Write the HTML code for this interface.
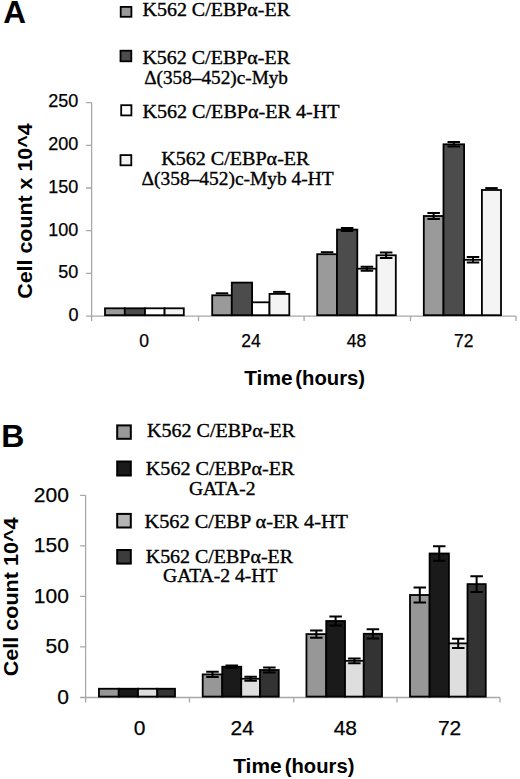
<!DOCTYPE html>
<html><head><meta charset="utf-8"><style>
html,body{margin:0;padding:0;background:#fff;}
svg{display:block;}
</style></head><body>
<svg width="520" height="779" viewBox="0 0 520 779">
<rect width="520" height="779" fill="#fff"/>
<path d="M91.6 102.60000000000002V321.1M86.1 316.1H516M86.1 102.60H91.6M86.1 145.30H91.6M86.1 188.00H91.6M86.1 230.70H91.6M86.1 273.40H91.6M86.1 316.10H91.6M91.6 316.1V321.1M198.5 316.1V321.1M304.1 316.1V321.1M410.5 316.1V321.1M516 316.1V321.1" stroke="#a8a8a8" stroke-width="1.3" fill="none"/>
<rect x="105.00" y="308.30" width="19.80" height="6.90" fill="#9a9a9a" stroke="#000" stroke-width="1.8"/>
<rect x="124.80" y="308.30" width="20.20" height="6.90" fill="#4c4c4c" stroke="#000" stroke-width="1.8"/>
<rect x="145.00" y="308.30" width="19.60" height="6.90" fill="#fff" stroke="#000" stroke-width="1.8"/>
<rect x="164.60" y="308.30" width="19.20" height="6.90" fill="#f4f4f4" stroke="#000" stroke-width="1.8"/>
<rect x="212.20" y="295.30" width="19.60" height="19.90" fill="#9a9a9a" stroke="#000" stroke-width="1.8"/>
<rect x="231.80" y="282.60" width="20.30" height="32.60" fill="#4c4c4c" stroke="#000" stroke-width="1.8"/>
<rect x="252.10" y="302.30" width="17.40" height="12.90" fill="#fff" stroke="#000" stroke-width="1.8"/>
<rect x="269.50" y="293.90" width="19.80" height="21.30" fill="#f4f4f4" stroke="#000" stroke-width="1.8"/>
<rect x="317.20" y="254.20" width="19.80" height="61.00" fill="#9a9a9a" stroke="#000" stroke-width="1.8"/>
<rect x="337.00" y="229.60" width="20.30" height="85.60" fill="#4c4c4c" stroke="#000" stroke-width="1.8"/>
<rect x="357.30" y="268.70" width="19.20" height="46.50" fill="#fff" stroke="#000" stroke-width="1.8"/>
<rect x="376.50" y="255.30" width="19.30" height="59.90" fill="#f4f4f4" stroke="#000" stroke-width="1.8"/>
<rect x="423.80" y="216.00" width="19.70" height="99.20" fill="#9a9a9a" stroke="#000" stroke-width="1.8"/>
<rect x="443.50" y="144.30" width="20.60" height="170.90" fill="#4c4c4c" stroke="#000" stroke-width="1.8"/>
<rect x="464.10" y="259.80" width="17.80" height="55.40" fill="#fff" stroke="#000" stroke-width="1.8"/>
<rect x="481.90" y="190.00" width="19.10" height="125.20" fill="#f4f4f4" stroke="#000" stroke-width="1.8"/>
<path d="M215.75 293.30H228.25" stroke="#000" stroke-width="2" fill="none"/>
<path d="M273.15 291.90H285.65" stroke="#000" stroke-width="2" fill="none"/>
<path d="M320.85 252.20H333.35" stroke="#000" stroke-width="2" fill="none"/>
<path d="M340.90 228.10H353.40M347.15 228.10V231.10M340.90 231.10H353.40" stroke="#000" stroke-width="2" fill="none"/>
<path d="M360.65 266.70H373.15M366.90 266.70V270.70M360.65 270.70H373.15" stroke="#000" stroke-width="2" fill="none"/>
<path d="M379.90 252.50H392.40M386.15 252.50V258.10M379.90 258.10H392.40" stroke="#000" stroke-width="2" fill="none"/>
<path d="M427.40 212.90H439.90M433.65 212.90V219.10M427.40 219.10H439.90" stroke="#000" stroke-width="2" fill="none"/>
<path d="M447.55 142.00H460.05M453.80 142.00V146.60M447.55 146.60H460.05" stroke="#000" stroke-width="2" fill="none"/>
<path d="M466.75 257.05H479.25M473.00 257.05V262.55M466.75 262.55H479.25" stroke="#000" stroke-width="2" fill="none"/>
<path d="M485.20 188.10H497.70" stroke="#000" stroke-width="2" fill="none"/>
<path d="M85.6 495.3V702.5M80.1 697.5H500M80.1 495.30H85.6M80.1 545.85H85.6M80.1 596.40H85.6M80.1 646.95H85.6M80.1 697.50H85.6M85.6 697.5V702.5M189.5 697.5V702.5M293.75 697.5V702.5M397 697.5V702.5M500 697.5V702.5" stroke="#a8a8a8" stroke-width="1.3" fill="none"/>
<rect x="98.95" y="688.75" width="19.80" height="7.85" fill="#979797" stroke="#000" stroke-width="1.8"/>
<rect x="118.75" y="688.75" width="19.25" height="7.85" fill="#1a1a1a" stroke="#000" stroke-width="1.8"/>
<rect x="138.00" y="688.75" width="19.25" height="7.85" fill="#dedede" stroke="#000" stroke-width="1.8"/>
<rect x="157.25" y="688.75" width="17.75" height="7.85" fill="#333" stroke="#000" stroke-width="1.8"/>
<rect x="202.70" y="674.40" width="19.55" height="22.20" fill="#979797" stroke="#000" stroke-width="1.8"/>
<rect x="222.25" y="666.75" width="19.00" height="29.85" fill="#1a1a1a" stroke="#000" stroke-width="1.8"/>
<rect x="241.25" y="678.75" width="18.75" height="17.85" fill="#dedede" stroke="#000" stroke-width="1.8"/>
<rect x="260.00" y="670.00" width="18.75" height="26.60" fill="#333" stroke="#000" stroke-width="1.8"/>
<rect x="306.45" y="634.10" width="19.80" height="62.50" fill="#979797" stroke="#000" stroke-width="1.8"/>
<rect x="326.25" y="621.00" width="18.75" height="75.60" fill="#1a1a1a" stroke="#000" stroke-width="1.8"/>
<rect x="345.00" y="660.80" width="18.75" height="35.80" fill="#dedede" stroke="#000" stroke-width="1.8"/>
<rect x="363.75" y="633.80" width="18.25" height="62.80" fill="#333" stroke="#000" stroke-width="1.8"/>
<rect x="410.00" y="595.00" width="19.60" height="101.60" fill="#979797" stroke="#000" stroke-width="1.8"/>
<rect x="429.60" y="553.50" width="19.30" height="143.10" fill="#1a1a1a" stroke="#000" stroke-width="1.8"/>
<rect x="448.90" y="643.40" width="18.60" height="53.20" fill="#dedede" stroke="#000" stroke-width="1.8"/>
<rect x="467.50" y="584.10" width="18.25" height="112.50" fill="#333" stroke="#000" stroke-width="1.8"/>
<path d="M206.22 671.80H218.72M212.47 671.80V677.00M206.22 677.00H218.72" stroke="#000" stroke-width="2" fill="none"/>
<path d="M225.50 665.55H238.00M231.75 665.55V667.95M225.50 667.95H238.00" stroke="#000" stroke-width="2" fill="none"/>
<path d="M244.38 676.75H256.88M250.62 676.75V680.75M244.38 680.75H256.88" stroke="#000" stroke-width="2" fill="none"/>
<path d="M263.12 667.50H275.62M269.38 667.50V672.50M263.12 672.50H275.62" stroke="#000" stroke-width="2" fill="none"/>
<path d="M310.10 630.50H322.60M316.35 630.50V637.70M310.10 637.70H322.60" stroke="#000" stroke-width="2" fill="none"/>
<path d="M329.38 616.60H341.88M335.62 616.60V625.40M329.38 625.40H341.88" stroke="#000" stroke-width="2" fill="none"/>
<path d="M348.12 658.40H360.62M354.38 658.40V663.20M348.12 663.20H360.62" stroke="#000" stroke-width="2" fill="none"/>
<path d="M366.62 629.20H379.12M372.88 629.20V638.40M366.62 638.40H379.12" stroke="#000" stroke-width="2" fill="none"/>
<path d="M413.55 587.60H426.05M419.80 587.60V602.40M413.55 602.40H426.05" stroke="#000" stroke-width="2" fill="none"/>
<path d="M433.00 546.30H445.50M439.25 546.30V560.70M433.00 560.70H445.50" stroke="#000" stroke-width="2" fill="none"/>
<path d="M451.95 638.80H464.45M458.20 638.80V648.00M451.95 648.00H464.45" stroke="#000" stroke-width="2" fill="none"/>
<path d="M470.38 576.20H482.88M476.62 576.20V592.00M470.38 592.00H482.88" stroke="#000" stroke-width="2" fill="none"/>
<text x="3.3" y="23.4" font-size="31.5" text-anchor="start" font-weight="bold" style="font-family:'Liberation Sans',sans-serif">A</text>
<text x="1.3" y="447.0" font-size="32" text-anchor="start" font-weight="bold" style="font-family:'Liberation Sans',sans-serif">B</text>
<text x="78.4" y="107.40000000000002" font-size="18" text-anchor="end" font-weight="normal" style="font-family:'Liberation Sans',sans-serif" stroke="#000" stroke-width="0.25">250</text>
<text x="78.4" y="150.10000000000002" font-size="18" text-anchor="end" font-weight="normal" style="font-family:'Liberation Sans',sans-serif" stroke="#000" stroke-width="0.25">200</text>
<text x="78.4" y="192.8" font-size="18" text-anchor="end" font-weight="normal" style="font-family:'Liberation Sans',sans-serif" stroke="#000" stroke-width="0.25">150</text>
<text x="78.4" y="235.50000000000003" font-size="18" text-anchor="end" font-weight="normal" style="font-family:'Liberation Sans',sans-serif" stroke="#000" stroke-width="0.25">100</text>
<text x="78.4" y="278.20000000000005" font-size="18" text-anchor="end" font-weight="normal" style="font-family:'Liberation Sans',sans-serif" stroke="#000" stroke-width="0.25">50</text>
<text x="78.4" y="320.90000000000003" font-size="18" text-anchor="end" font-weight="normal" style="font-family:'Liberation Sans',sans-serif" stroke="#000" stroke-width="0.25">0</text>
<text x="144.1" y="347" font-size="17.5" text-anchor="middle" font-weight="normal" style="font-family:'Liberation Sans',sans-serif" stroke="#000" stroke-width="0.25">0</text>
<text x="250.9" y="347" font-size="17.5" text-anchor="middle" font-weight="normal" style="font-family:'Liberation Sans',sans-serif" stroke="#000" stroke-width="0.25">24</text>
<text x="356.5" y="347" font-size="17.5" text-anchor="middle" font-weight="normal" style="font-family:'Liberation Sans',sans-serif" stroke="#000" stroke-width="0.25">48</text>
<text x="463.7" y="347" font-size="17.5" text-anchor="middle" font-weight="normal" style="font-family:'Liberation Sans',sans-serif" stroke="#000" stroke-width="0.25">72</text>
<text x="244.2" y="384.5" font-size="21" text-anchor="start" font-weight="bold" style="font-family:'Liberation Sans',sans-serif" textLength="48.4" lengthAdjust="spacingAndGlyphs">Time</text>
<text x="295.3" y="384.5" font-size="21" text-anchor="start" font-weight="bold" style="font-family:'Liberation Sans',sans-serif" textLength="69.8" lengthAdjust="spacingAndGlyphs">(hours)</text>
<text transform="translate(32.2 211.05) rotate(-90)" font-size="21" text-anchor="middle" font-weight="bold" style="font-family:'Liberation Sans',sans-serif" textLength="175.4" lengthAdjust="spacingAndGlyphs">Cell count x 10^4</text>
<text x="68.9" y="501.7" font-size="21" text-anchor="end" font-weight="normal" style="font-family:'Liberation Sans',sans-serif" stroke="#000" stroke-width="0.25">200</text>
<text x="68.9" y="552.25" font-size="21" text-anchor="end" font-weight="normal" style="font-family:'Liberation Sans',sans-serif" stroke="#000" stroke-width="0.25">150</text>
<text x="68.9" y="602.8" font-size="21" text-anchor="end" font-weight="normal" style="font-family:'Liberation Sans',sans-serif" stroke="#000" stroke-width="0.25">100</text>
<text x="68.9" y="653.35" font-size="21" text-anchor="end" font-weight="normal" style="font-family:'Liberation Sans',sans-serif" stroke="#000" stroke-width="0.25">50</text>
<text x="68.9" y="703.9" font-size="21" text-anchor="end" font-weight="normal" style="font-family:'Liberation Sans',sans-serif" stroke="#000" stroke-width="0.25">0</text>
<text x="139.5" y="734.8" font-size="21" text-anchor="middle" font-weight="normal" style="font-family:'Liberation Sans',sans-serif" stroke="#000" stroke-width="0.25">0</text>
<text x="242.25" y="734.8" font-size="21" text-anchor="middle" font-weight="normal" style="font-family:'Liberation Sans',sans-serif" stroke="#000" stroke-width="0.25">24</text>
<text x="345.35" y="734.8" font-size="21" text-anchor="middle" font-weight="normal" style="font-family:'Liberation Sans',sans-serif" stroke="#000" stroke-width="0.25">48</text>
<text x="449.6" y="734.8" font-size="21" text-anchor="middle" font-weight="normal" style="font-family:'Liberation Sans',sans-serif" stroke="#000" stroke-width="0.25">72</text>
<text x="233.2" y="772.7" font-size="21" text-anchor="start" font-weight="bold" style="font-family:'Liberation Sans',sans-serif" textLength="48.4" lengthAdjust="spacingAndGlyphs">Time</text>
<text x="284.8" y="772.7" font-size="21" text-anchor="start" font-weight="bold" style="font-family:'Liberation Sans',sans-serif" textLength="69.6" lengthAdjust="spacingAndGlyphs">(hours)</text>
<text transform="translate(18.4 596.9) rotate(-90)" font-size="21" text-anchor="middle" font-weight="bold" style="font-family:'Liberation Sans',sans-serif" textLength="158.8" lengthAdjust="spacingAndGlyphs">Cell count 10^4</text>
<rect x="120.70" y="6.90" width="10.70" height="9.90" fill="#999" stroke="#000" stroke-width="1.8"/>
<text x="142.5" y="15.8" font-size="18.5" text-anchor="start" font-weight="normal" style="font-family:'Liberation Serif',serif" textLength="147.5" lengthAdjust="spacingAndGlyphs" stroke="#000" stroke-width="0.35">K562 C/EBPα-ER</text>
<rect x="120.50" y="50.70" width="10.80" height="10.60" fill="#4c4c4c" stroke="#000" stroke-width="1.8"/>
<text x="142.4" y="63.8" font-size="18.5" text-anchor="start" font-weight="normal" style="font-family:'Liberation Serif',serif" textLength="147.6" lengthAdjust="spacingAndGlyphs" stroke="#000" stroke-width="0.35">K562 C/EBPα-ER</text>
<text x="144.2" y="83.5" font-size="18.5" text-anchor="start" font-weight="normal" style="font-family:'Liberation Serif',serif" textLength="143.8" lengthAdjust="spacingAndGlyphs" stroke="#000" stroke-width="0.35">Δ(358–452)c-Myb</text>
<rect x="121.20" y="105.20" width="10.20" height="10.20" fill="#fff" stroke="#000" stroke-width="1.8"/>
<text x="142.4" y="118" font-size="18.5" text-anchor="start" font-weight="normal" style="font-family:'Liberation Serif',serif" textLength="197.1" lengthAdjust="spacingAndGlyphs" stroke="#000" stroke-width="0.35">K562 C/EBPα-ER 4-HT</text>
<rect x="120.50" y="155.10" width="10.80" height="10.20" fill="#f2f2f2" stroke="#000" stroke-width="1.8"/>
<text x="161.2" y="165.4" font-size="18.5" text-anchor="start" font-weight="normal" style="font-family:'Liberation Serif',serif" textLength="148.3" lengthAdjust="spacingAndGlyphs" stroke="#000" stroke-width="0.35">K562 C/EBPα-ER</text>
<text x="141.5" y="185.2" font-size="18.5" text-anchor="start" font-weight="normal" style="font-family:'Liberation Serif',serif" textLength="192.2" lengthAdjust="spacingAndGlyphs" stroke="#000" stroke-width="0.35">Δ(358–452)c-Myb 4-HT</text>
<rect x="117.20" y="425.40" width="13.60" height="13.40" fill="#999" stroke="#000" stroke-width="2"/>
<text x="147" y="437" font-size="18.5" text-anchor="start" font-weight="normal" style="font-family:'Liberation Serif',serif" textLength="148" lengthAdjust="spacingAndGlyphs" stroke="#000" stroke-width="0.35">K562 C/EBPα-ER</text>
<rect x="117.20" y="461.50" width="13.60" height="14.00" fill="#1a1a1a" stroke="#000" stroke-width="2"/>
<text x="145.8" y="474.6" font-size="18.5" text-anchor="start" font-weight="normal" style="font-family:'Liberation Serif',serif" textLength="148.7" lengthAdjust="spacingAndGlyphs" stroke="#000" stroke-width="0.35">K562 C/EBPα-ER</text>
<text x="188.9" y="494.6" font-size="18.5" text-anchor="start" font-weight="normal" style="font-family:'Liberation Serif',serif" textLength="66.6" lengthAdjust="spacingAndGlyphs" stroke="#000" stroke-width="0.35">GATA-2</text>
<rect x="117.20" y="513.90" width="13.60" height="13.60" fill="#b4b4b4" stroke="#000" stroke-width="2"/>
<text x="144.5" y="528" font-size="18.5" text-anchor="start" font-weight="normal" style="font-family:'Liberation Serif',serif" textLength="203.5" lengthAdjust="spacingAndGlyphs" stroke="#000" stroke-width="0.35">K562 C/EBP α-ER 4-HT</text>
<rect x="117.20" y="550.00" width="13.60" height="13.60" fill="#3c3c3c" stroke="#000" stroke-width="2"/>
<text x="145.75" y="562.5" font-size="18.5" text-anchor="start" font-weight="normal" style="font-family:'Liberation Serif',serif" textLength="147.25" lengthAdjust="spacingAndGlyphs" stroke="#000" stroke-width="0.35">K562 C/EBPα-ER</text>
<text x="163" y="582.3" font-size="18.5" text-anchor="start" font-weight="normal" style="font-family:'Liberation Serif',serif" textLength="114.5" lengthAdjust="spacingAndGlyphs" stroke="#000" stroke-width="0.35">GATA-2 4-HT</text>
</svg>
</body></html>
